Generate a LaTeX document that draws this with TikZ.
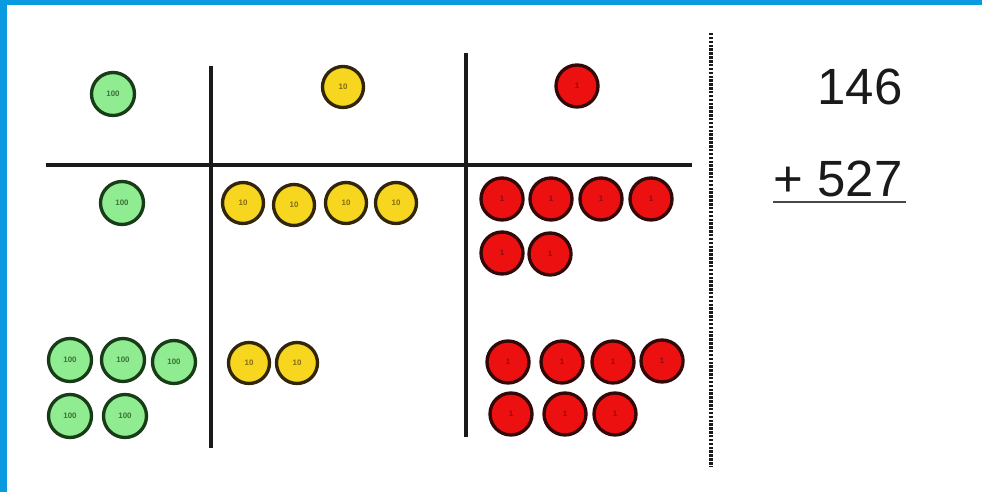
\documentclass[tikz,border=0pt]{standalone}
\usepackage{fontspec}
\setmainfont{Liberation Sans}
\usetikzlibrary{positioning}
\definecolor{biruFrame}{RGB}{10,154,224}
\definecolor{hijauKoin}{RGB}{144,236,144}
\definecolor{hijauTepi}{RGB}{24,60,24}
\definecolor{kuningKoin}{RGB}{246,214,30}
\definecolor{kuningTepi}{RGB}{50,38,10}
\definecolor{merahKoin}{RGB}{236,16,16}
\definecolor{merahTepi}{RGB}{50,8,8}
\definecolor{garis}{RGB}{26,26,26}

\begin{document}
\begin{tikzpicture}[
  x=0.02cm, y=-0.02cm,
  koin/.style={circle, line width=1.9pt, inner sep=0pt, font=\fontsize{4.5}{5}\selectfont\bfseries},
  koinH/.style={koin, draw=hijauTepi, fill=hijauKoin, text=hijauTepi!70!hijauKoin, minimum size=0.86cm},
  koinT/.style={koin, draw=kuningTepi, fill=kuningKoin, text=kuningTepi!60!kuningKoin, minimum size=0.82cm},
  koinS/.style={koin, draw=merahTepi, fill=merahKoin, text=merahTepi!50!merahKoin, minimum size=0.84cm},
  tabel/.style={draw=garis, line width=1.9pt},
  angka/.style={font=\fontsize{29}{30}\selectfont, text=garis, inner sep=0pt, anchor=base east},
]
  \useasboundingbox (0,0) rectangle (982,492);
  \fill[white] (0,0) rectangle (982,492);
  \fill[biruFrame] (0,0) rectangle (982,5);
  \fill[biruFrame] (0,0) rectangle (7,492);

  % place value chart
  \draw[tabel] (211,66) -- (211,448);
  \draw[tabel] (466,53) -- (466,437);
  \draw[tabel] (46,165) -- (692,165);
  \draw[garis, line width=1.8pt, dash pattern=on 1.4pt off 0.8pt] (711,33) -- (711,466);

  % column headers
  \node[koinH] at (113,94) (h0) {100};
  \node[koinT] at (343,87) (t0) {10};
  \node[koinS] at (577,86) (s0) {1};

  % 146
  \node[koinH] at (122,203) (h1) {100};
  \node[koinT] at (243,203) (t1) {10};
  \node[koinT] at (294,205) (t2) {10};
  \node[koinT] at (346,203) (t3) {10};
  \node[koinT] at (396,203) (t4) {10};
  \node[koinS] at (502,199) (s1) {1};
  \node[koinS] at (551,199) (s2) {1};
  \node[koinS] at (601,199) (s3) {1};
  \node[koinS] at (651,199) (s4) {1};
  \node[koinS] at (502,253) (s5) {1};
  \node[koinS] at (550,254) (s6) {1};

  % 527
  \node[koinH] at (70,360) (h2) {100};
  \node[koinH] at (123,360) (h3) {100};
  \node[koinH] at (174,362) (h4) {100};
  \node[koinH] at (70,416) (h5) {100};
  \node[koinH] at (125,416) (h6) {100};
  \node[koinT] at (249,363) (t5) {10};
  \node[koinT] at (297,363) (t6) {10};
  \node[koinS] at (508,362) (s7) {1};
  \node[koinS] at (562,362) (s8) {1};
  \node[koinS] at (613,362) (s9) {1};
  \node[koinS] at (662,361) (s10) {1};
  \node[koinS] at (511,414) (s11) {1};
  \node[koinS] at (565,414) (s12) {1};
  \node[koinS] at (615,414) (s13) {1};

  % written sum
  \node[angka] at (903,105) (n1) {146};
  \node[angka] at (903,197) (n2) {+ 527};
  \draw[garis!80, line width=1.2pt] (773,202) -- (906,202);
\end{tikzpicture}
\end{document}
